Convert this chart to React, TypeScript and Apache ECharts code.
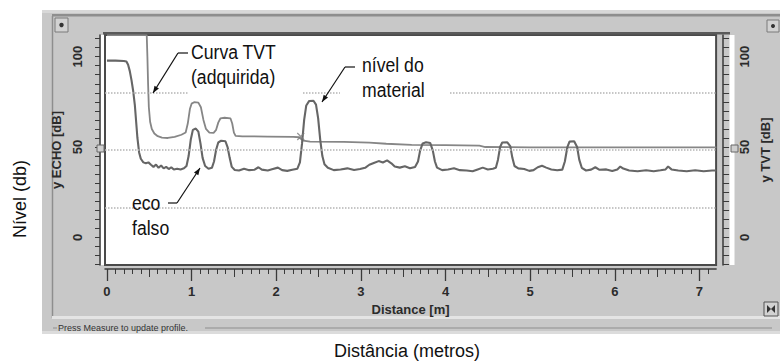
import React, { useEffect, useRef } from 'react';
import * as echarts from 'echarts';

// ---- data ----
const xTickLabels = [0, 1, 2, 3, 4, 5, 6, 7];
const yTickLabels = [0, 50, 100];
const guideLevels = [80, 48.5, 16.2];

const echoProfile: [number, number][] = [
  [0, 97.8], [0.1, 97.8], [0.2, 97.6], [0.23, 97.3], [0.25, 95.5], [0.27, 92], [0.29, 87], [0.31, 81],
  [0.33, 73], [0.345, 64], [0.36, 55], [0.38, 47], [0.4, 43.5], [0.43, 41.5], [0.46, 41], [0.49, 41.5],
  [0.52, 40.2], [0.55, 39], [0.58, 40.3], [0.61, 38.5], [0.64, 39.8], [0.67, 38.2], [0.7, 39], [0.73, 37.8],
  [0.76, 38.8], [0.79, 37.5], [0.83, 38], [0.87, 37.6], [0.91, 38.2], [0.94, 39.5], [0.965, 45], [0.99, 54],
  [1.015, 59.5], [1.05, 60.2], [1.08, 58.5], [1.105, 52], [1.13, 44], [1.16, 39.5], [1.2, 38], [1.24, 38.5],
  [1.265, 42], [1.29, 48.5], [1.315, 52.5], [1.35, 53.5], [1.4, 53.2], [1.425, 50], [1.45, 44], [1.475, 39],
  [1.51, 37.3], [1.56, 37], [1.62, 38], [1.68, 37.2], [1.74, 37.4], [1.79, 38.8], [1.83, 37.5], [1.9, 37],
  [1.96, 37.8], [2.02, 38.6], [2.07, 37.2], [2.13, 36.8], [2.19, 37.4], [2.25, 38], [2.28, 41.5], [2.305, 52],
  [2.33, 65], [2.355, 73], [2.39, 75.5], [2.44, 75.6], [2.47, 73.5], [2.495, 66], [2.52, 54], [2.545, 45],
  [2.57, 40.5], [2.61, 38.5], [2.68, 37.2], [2.76, 37.6], [2.84, 38.2], [2.92, 37.3], [2.99, 37.8], [3.05, 38.5],
  [3.1, 40.2], [3.16, 41.3], [3.21, 42.2], [3.26, 41.4], [3.31, 42.6], [3.36, 41], [3.4, 39.2], [3.46, 38.6],
  [3.52, 39.3], [3.58, 38.2], [3.64, 39], [3.675, 42], [3.7, 48], [3.73, 52], [3.77, 52.6], [3.82, 52.2],
  [3.85, 48], [3.875, 42], [3.9, 38.6], [3.96, 37.2], [4.03, 37.6], [4.1, 38.2], [4.17, 37.2], [4.25, 37],
  [4.32, 36.6], [4.38, 37.6], [4.44, 38.6], [4.5, 37.6], [4.56, 38], [4.595, 38.5], [4.62, 43], [4.645, 50],
  [4.67, 52.5], [4.73, 52.6], [4.765, 50.5], [4.79, 44], [4.815, 39.5], [4.86, 38.2], [4.93, 37.8], [4.99, 36.8],
  [5.04, 37.2], [5.09, 38.8], [5.14, 39.6], [5.19, 38.6], [5.25, 37.6], [5.32, 37.1], [5.38, 37.5], [5.41, 42],
  [5.44, 50], [5.465, 53], [5.52, 53.2], [5.555, 50], [5.58, 43], [5.61, 38.5], [5.66, 37], [5.72, 37.5],
  [5.77, 38.8], [5.82, 37.4], [5.9, 37.6], [5.97, 36.7], [6.03, 37.6], [6.065, 39.2], [6.1, 38.1], [6.17, 37],
  [6.27, 36.6], [6.37, 37.1], [6.46, 36.6], [6.54, 37.1], [6.6, 37.6], [6.63, 39.2], [6.67, 37.6], [6.75, 37],
  [6.85, 36.6], [6.95, 37.1], [7.05, 36.6], [7.15, 37], [7.2, 37],
];

const tvtProfile: [number, number][] = [
  [0, 112], [0.47, 112], [0.478, 100], [0.486, 85], [0.495, 72], [0.51, 64], [0.53, 60], [0.56, 57.5],
  [0.6, 56], [0.65, 55.2], [0.72, 55], [0.8, 55.6], [0.88, 56.8], [0.93, 58], [0.955, 63], [0.98, 71],
  [1.0, 74], [1.03, 74.8], [1.08, 74.6], [1.11, 72], [1.14, 65], [1.17, 60], [1.21, 58], [1.26, 57.8],
  [1.29, 59.5], [1.315, 63.5], [1.34, 65.8], [1.39, 66.2], [1.46, 65.8], [1.48, 63], [1.5, 58], [1.52, 56.2],
  [1.6, 55.9], [1.9, 55.8], [2.2, 55.6], [2.27, 55.4], [2.32, 53.5], [2.4, 53], [2.8, 52.8], [3.1, 52.4],
  [3.3, 51.8], [3.6, 51.2], [4.0, 51], [4.4, 50.8], [4.47, 50], [5.0, 49.8], [6.0, 49.8], [7.2, 49.8],
];

const crossMark: [number, number][] = [[2.29, 55.8]];

const X_MIN = -0.023;
const X_MAX = 7.197;
const Y_MIN = -15.3;
const Y_MAX = 112;

const AX = '#2b2b2b';
const AXFONT = '"Liberation Sans", Arial, sans-serif';
const NOTEFONT = '"Liberation Sans", Arial, sans-serif';

function range(a: number, b: number, step: number): number[] {
  const out: number[] = [];
  const n = Math.round((b - a) / step);
  for (let i = 0; i <= n; i++) out.push(+(a + i * step).toFixed(3));
  return out;
}

function arrowHead(x1: number, y1: number, x2: number, y2: number) {
  const dx = x2 - x1, dy = y2 - y1;
  const L = Math.hypot(dx, dy);
  const ux = dx / L, uy = dy / L;
  const len = 7, w = 2.6;
  const bx = x2 - ux * len, by = y2 - uy * len;
  return [[x2, y2], [bx - uy * w, by + ux * w], [bx + uy * w, by - ux * w]];
}

function leader(dash: number[], tip: number[]) {
  const [dx1, dy, dx2] = dash;
  const start = dx1 < tip[0] ? dx2 : dx1;
  return [
    { type: 'line', z: 60, shape: { x1: dx1, y1: dy, x2: dx2, y2: dy }, style: { stroke: '#111', lineWidth: 1.2 } },
    { type: 'line', z: 60, shape: { x1: start, y1: dy, x2: tip[0], y2: tip[1] }, style: { stroke: '#111', lineWidth: 1.2 } },
    { type: 'polygon', z: 60, shape: { points: arrowHead(start, dy, tip[0], tip[1]) }, style: { fill: '#111' } },
  ];
}

function note(text: string, x: number, y: number) {
  return {
    type: 'text', z: 61, x, y, scaleX: 0.84, scaleY: 1,
    style: { text, fontSize: 21, fontFamily: NOTEFONT, lineHeight: 25, fill: '#111', verticalAlign: 'top', align: 'left' },
  };
}

export default function App() {
  const ref = useRef<HTMLDivElement>(null);

  useEffect(() => {
    if (!ref.current) return;
    const chart = echarts.init(ref.current, null, { renderer: 'svg' });

    const labelStyle = { color: AX, fontFamily: AXFONT, fontWeight: 'bold' as const, fontSize: 13 };

    const baseX = {
      type: 'value' as const,
      min: X_MIN,
      max: X_MAX,
      position: 'bottom' as const,
      offset: 4,
      splitLine: { show: false },
    };
    const baseY = {
      type: 'value' as const,
      min: Y_MIN,
      max: Y_MAX,
      splitLine: { show: false },
    };

    const graphics: any[] = [
      // instrument panel
      { type: 'rect', z: -10, shape: { x: 42, y: 10, width: 738, height: 324 }, style: { fill: '#c8c8c8' } },
      { type: 'rect', z: -9, shape: { x: 42, y: 10, width: 738, height: 3 }, style: { fill: '#d8d8d8' } },
      { type: 'rect', z: -9, shape: { x: 52, y: 14, width: 728, height: 2.5 }, style: { fill: '#8e8e8e' } },
      { type: 'line', z: -9, shape: { x1: 52.5, y1: 16, x2: 52.5, y2: 318 }, style: { stroke: '#8e8e8e', lineWidth: 1.5 } },
      { type: 'rect', z: -9, shape: { x: 52, y: 316, width: 728, height: 3 }, style: { fill: '#e4e4e4' } },
      { type: 'line', z: -9, shape: { x1: 53, y1: 328, x2: 57, y2: 328 }, style: { stroke: '#8e8e8e', lineWidth: 1 } },
      { type: 'line', z: -9, shape: { x1: 205, y1: 328, x2: 772, y2: 328 }, style: { stroke: '#8e8e8e', lineWidth: 1 } },
      { type: 'rect', z: -9, shape: { x: 42, y: 331, width: 738, height: 3 }, style: { fill: '#dcdcdc' } },
      // thick top border of plot
      { type: 'rect', z: 5, shape: { x: 103, y: 32, width: 627, height: 2.5 }, style: { fill: '#5a5a5a' } },
      // white strips beside plot
      { type: 'rect', z: -5, shape: { x: 100.5, y: 35, width: 4, height: 230 }, style: { fill: '#ffffff' } },
      { type: 'rect', z: -5, shape: { x: 729.5, y: 35, width: 5, height: 230 }, style: { fill: '#ffffff' } },
      // axis markers at 50
      { type: 'rect', z: 6, shape: { x: 97, y: 145, width: 7, height: 7 }, style: { fill: '#cfcfcf', stroke: '#666', lineWidth: 1 } },
      { type: 'rect', z: 6, shape: { x: 731, y: 145, width: 7, height: 7 }, style: { fill: '#cfcfcf', stroke: '#666', lineWidth: 1 } },
      // buttons
      { type: 'rect', z: -8, shape: { x: 55, y: 18, width: 13, height: 14 }, style: { fill: '#d2d2d2', stroke: '#7a7a7a', lineWidth: 1 } },
      { type: 'circle', z: -7, shape: { cx: 61.5, cy: 25, r: 2.2 }, style: { fill: '#333' } },
      { type: 'rect', z: -8, shape: { x: 767, y: 20, width: 12, height: 12 }, style: { fill: '#d2d2d2', stroke: '#7a7a7a', lineWidth: 1 } },
      { type: 'circle', z: -7, shape: { cx: 773, cy: 26, r: 2 }, style: { fill: '#333' } },
      { type: 'rect', z: -8, shape: { x: 764, y: 302, width: 14, height: 14 }, style: { fill: '#d2d2d2', stroke: '#555', lineWidth: 1 } },
      { type: 'polygon', z: -7, shape: { points: [[767, 305], [771, 309], [767, 313]] }, style: { fill: '#333' } },
      { type: 'polygon', z: -7, shape: { points: [[775, 305], [771, 309], [775, 313]] }, style: { fill: '#333' } },
      // status bar text
      { type: 'text', z: -7, x: 58, y: 328, style: { text: 'Press Measure to update profile.', fontSize: 9, fontFamily: AXFONT, fill: '#333', verticalAlign: 'middle', align: 'left' } },
      // outer labels
      { type: 'text', z: 10, x: 20, y: 199, rotation: Math.PI / 2, style: { text: 'Nível (db)', fontSize: 18, fontFamily: AXFONT, fill: '#111', align: 'center', verticalAlign: 'middle' } },
      { type: 'text', z: 10, x: 407, y: 351, style: { text: 'Distância (metros)', fontSize: 18, fontFamily: AXFONT, fill: '#111', align: 'center', verticalAlign: 'middle' } },
      // annotation boxes
      { type: 'rect', z: 50, shape: { x: 188, y: 37, width: 115, height: 58 }, style: { fill: '#ffffff' } },
      { type: 'rect', z: 50, shape: { x: 340, y: 50, width: 110, height: 46 }, style: { fill: '#ffffff' } },
      // annotation texts
      note('Curva TVT\n(adquirida)', 191, 39),
      note('nível do\nmaterial', 362, 52),
      note('eco\nfalso', 132, 190),
      ...leader([178, 53, 188], [153, 93]),
      ...leader([345, 67, 355], [322, 102]),
      ...leader([168, 203, 177], [200, 168]),
    ];

    chart.setOption({
      animation: false,
      grid: {
        left: 105, right: 52, top: 35, bottom: 96,
        show: true, backgroundColor: '#ffffff', borderColor: '#4a4a4a', borderWidth: 2,
      },
      xAxis: [
        {
          ...baseX,
          axisLine: { show: true, onZero: false, lineStyle: { color: '#3a3a3a', width: 1.5 } },
          axisTick: { show: true, customValues: range(0, 7.2, 0.1), length: 5, lineStyle: { color: '#3a3a3a' } },
          axisLabel: { show: true, customValues: xTickLabels, formatter: (v: number) => String(Math.round(v)), margin: 16, ...labelStyle },
          name: 'Distance [m]', nameLocation: 'middle', nameGap: 31,
          nameTextStyle: { ...labelStyle },
        },
        {
          ...baseX,
          axisLine: { show: false, onZero: false },
          axisTick: { show: true, customValues: range(0.5, 6.5, 1), length: 8, lineStyle: { color: '#3a3a3a' } },
          axisLabel: { show: false },
        },
        {
          ...baseX,
          axisLine: { show: false, onZero: false },
          axisTick: { show: true, customValues: xTickLabels, length: 12, lineStyle: { color: '#3a3a3a', width: 1.3 } },
          axisLabel: { show: false },
        },
      ],
      yAxis: [
        {
          ...baseY,
          position: 'left', offset: 5,
          axisLine: { show: true, onZero: false, lineStyle: { color: '#3a3a3a', width: 1.5 } },
          axisTick: { show: true, customValues: range(-15, 110, 5), length: 5, lineStyle: { color: '#3a3a3a' } },
          axisLabel: { show: true, customValues: yTickLabels, rotate: 90, margin: 16, ...labelStyle },
          name: 'y ECHO [dB]', nameLocation: 'middle', nameGap: 28,
          nameTextStyle: { ...labelStyle },
        },
        {
          ...baseY,
          position: 'right', offset: 7,
          axisLine: { show: true, onZero: false, lineStyle: { color: '#3a3a3a', width: 1.5 } },
          axisTick: { show: true, customValues: range(-15, 110, 5), length: 6, lineStyle: { color: '#3a3a3a' } },
          axisLabel: { show: true, customValues: yTickLabels, rotate: 90, margin: 15, ...labelStyle },
          name: 'y TVT [dB]', nameLocation: 'middle', nameGap: 29,
          nameTextStyle: { ...labelStyle },
        },
      ],
      graphic: { elements: graphics },
      series: [
        {
          name: 'guides', type: 'line', data: [], z: 1, silent: true,
          markLine: {
            silent: true, symbol: ['none', 'none'], label: { show: false },
            lineStyle: { type: 'dotted', color: '#b4b4b4', width: 1.5 },
            data: guideLevels.map((v) => ({ yAxis: v })),
          },
        },
        {
          name: 'TVT', type: 'line', data: tvtProfile, showSymbol: false, z: 3,
          lineStyle: { color: '#868686', width: 1.8 },
        },
        {
          name: 'ECHO', type: 'line', data: echoProfile, showSymbol: false, z: 4,
          lineStyle: { color: '#666666', width: 2.1 },
        },
        {
          name: 'mark', type: 'scatter', data: crossMark, z: 5,
          symbol: 'path://M0,0L10,10M10,0L0,10', symbolSize: 7,
          itemStyle: { color: 'rgba(0,0,0,0)', borderColor: '#7a7a7a', borderWidth: 1.2 },
        },
      ],
    });

    return () => chart.dispose();
  }, []);

  return <div ref={ref} style={{ position: 'absolute', left: 0, top: 0, width: 780, height: 361 }} />;
}
